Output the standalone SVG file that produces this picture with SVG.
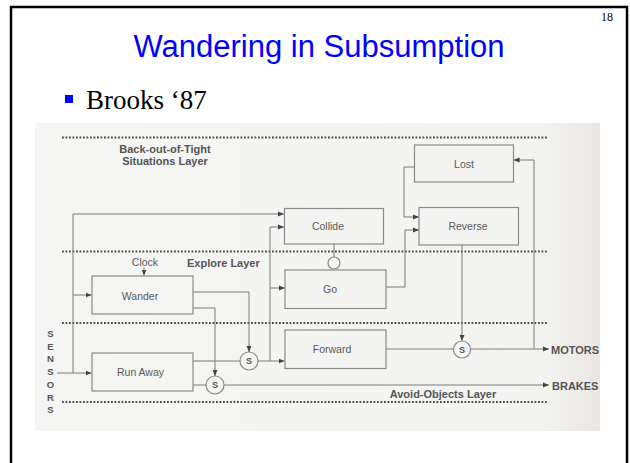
<svg xmlns="http://www.w3.org/2000/svg" width="630" height="463" viewBox="0 0 630 463">
<defs>
<style>
.box{fill:none;stroke:#8a8a8a;stroke-width:1.2}
.bt{font-family:"Liberation Sans",Arial,sans-serif;font-size:10.5px;fill:#5a5a5a;text-anchor:middle}
.lbl{font-family:"Liberation Sans",Arial,sans-serif;font-size:11px;font-weight:bold;fill:#555}
.dot{stroke:#4a4a4a;stroke-width:2;stroke-dasharray:1.8 1.7;fill:none}
.ln{fill:none;stroke:#7a7a7a;stroke-width:1}
.sc{fill:#f4f4f2;stroke:#8a8a8a;stroke-width:1.2}
.st{font-family:"Liberation Sans",Arial,sans-serif;font-size:9px;font-weight:bold;fill:#555;text-anchor:middle}
</style>
<marker id="ah" viewBox="0 0 6 6" refX="6" refY="3" markerWidth="6" markerHeight="6" markerUnits="userSpaceOnUse" orient="auto">
<path d="M0,0.5 L6,3 L0,5.5 Z" fill="#444"/>
</marker>
<linearGradient id="bg" x1="0" y1="0" x2="1" y2="0">
<stop offset="0" stop-color="#f5f5f3"/>
<stop offset="0.9" stop-color="#f3f3f1"/>
<stop offset="1" stop-color="#e9e6e3"/>
</linearGradient>
</defs>
<rect x="0" y="0" width="630" height="463" fill="#fff"/>
<rect x="11" y="7" width="616" height="480" fill="none" stroke="#000" stroke-width="2.5"/>
<text x="601" y="21" font-family="Liberation Serif,serif" font-size="12" fill="#000">18</text>
<text x="319" y="57" font-family="Liberation Sans,Arial,sans-serif" font-size="31" fill="#0000ff" text-anchor="middle">Wandering in Subsumption</text>
<rect x="65" y="95" width="8" height="8" fill="#0000ff"/>
<text x="86" y="109" font-family="Liberation Serif,serif" font-size="27" fill="#000">Brooks  ‘87</text>
<rect x="35" y="123" width="565" height="308" fill="url(#bg)"/>
<g id="layers">
<line class="dot" x1="62" y1="137.5" x2="547" y2="137.5"/>
<line class="dot" x1="62" y1="251.5" x2="547" y2="251.5"/>
<line class="dot" x1="62" y1="323" x2="547" y2="323"/>
<line class="dot" x1="62" y1="402" x2="547" y2="402"/>
<text class="lbl" x="165" y="153" text-anchor="middle">Back-out-of-Tight</text>
<text class="lbl" x="165" y="165" text-anchor="middle">Situations Layer</text>
<text class="lbl" x="187" y="266.5">Explore Layer</text>
<text class="lbl" x="443" y="398" text-anchor="middle">Avoid-Objects Layer</text>
<text class="bt" x="145" y="266">Clock</text>
<text class="lbl" x="551" y="353.5" font-size="10.5">MOTORS</text>
<text class="lbl" x="552" y="389.5" font-size="10.5">BRAKES</text>
<g font-family="Liberation Sans,Arial,sans-serif" font-size="9.5" font-weight="bold" fill="#555" text-anchor="middle">
<text x="50.5" y="337">S</text>
<text x="50.5" y="349.7">E</text>
<text x="50.5" y="362.4">N</text>
<text x="50.5" y="375.1">S</text>
<text x="50.5" y="387.8">O</text>
<text x="50.5" y="400.5">R</text>
<text x="50.5" y="413.2">S</text>
</g>
</g>
<g id="connectors">
<path class="ln" d="M73,373 V214 H284" marker-end="url(#ah)"/>
<path class="ln" d="M73,295 H91.5" marker-end="url(#ah)"/>
<path class="ln" d="M57,373 H91.5" marker-end="url(#ah)"/>
<path class="ln" d="M144,267.5 V275.5" marker-end="url(#ah)"/>
<path class="ln" d="M193,292 H249 V352" marker-end="url(#ah)"/>
<path class="ln" d="M193,308 H215 V376" marker-end="url(#ah)"/>
<path class="ln" d="M193,361 H240"/>
<path class="ln" d="M193,385 H206"/>
<path class="ln" d="M258,361 H284.5" marker-end="url(#ah)"/>
<path class="ln" d="M270,361 V227 H284" marker-end="url(#ah)"/>
<path class="ln" d="M270,288 H285" marker-end="url(#ah)"/>
<path class="ln" d="M334,244 V257"/>
<path class="ln" d="M386,287 H405 V230 H419" marker-end="url(#ah)"/>
<path class="ln" d="M414,167 H404 V217 H419" marker-end="url(#ah)"/>
<path class="ln" d="M462,245 V341" marker-end="url(#ah)"/>
<path class="ln" d="M386,349 H453.5"/>
<path class="ln" d="M470.5,349 H549" marker-end="url(#ah)"/>
<path class="ln" d="M534,349 V160 H513.5" marker-end="url(#ah)"/>
<path class="ln" d="M224,385 H549" marker-end="url(#ah)"/>
</g>
<g id="collide"><rect class="box" x="284.5" y="208.5" width="99" height="35.5"/><text class="bt" x="328" y="229.8">Collide</text></g>
<g id="lost"><rect class="box" x="414.5" y="145" width="99" height="37"/><text class="bt" x="464" y="167.5">Lost</text></g>
<g id="reverse"><rect class="box" x="419" y="207.5" width="99.5" height="37.5"/><text class="bt" x="468" y="230">Reverse</text></g>
<g id="wander"><rect class="box" x="92" y="276" width="101" height="38"/><text class="bt" x="140" y="299.5">Wander</text></g>
<g id="go"><rect class="box" x="285" y="270" width="101" height="38.5"/><text class="bt" x="330" y="293">Go</text></g>
<g id="run-away"><rect class="box" x="92" y="353" width="101" height="38"/><text class="bt" x="140.5" y="375.5">Run Away</text></g>
<g id="forward"><rect class="box" x="285" y="330" width="101" height="38.5"/><text class="bt" x="332" y="353">Forward</text></g>
<g id="inhibit"><circle class="sc" cx="334" cy="263" r="6"/></g>
<g id="s1"><circle class="sc" cx="249" cy="361" r="9"/><text class="st" x="249" y="364.3">S</text></g>
<g id="s2"><circle class="sc" cx="215" cy="385" r="9"/><text class="st" x="215" y="388.3">S</text></g>
<g id="s3"><circle class="sc" cx="462" cy="349.5" r="8.5"/><text class="st" x="462" y="352.8">S</text></g>
</svg>
